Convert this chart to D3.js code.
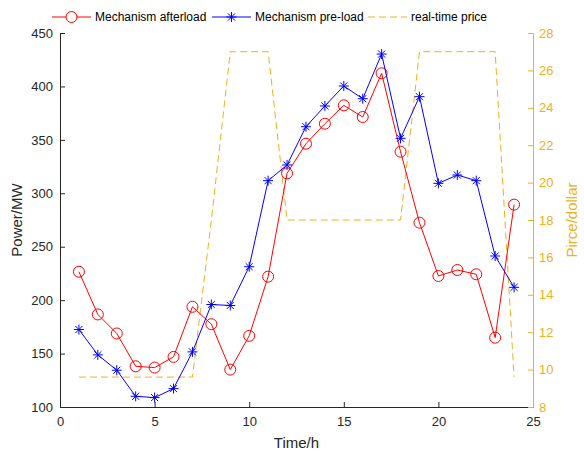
<!DOCTYPE html>
<html>
<head>
<meta charset="utf-8">
<script src="https://cdn.jsdelivr.net/npm/d3@7"></script>
<style>
  body { margin: 0; background: #fff; }
  text { font-family: Arial, "Liberation Sans", sans-serif; }
</style>
</head>
<body>
<div class="canvas"></div>
<script>
// hours of the day
const hours = [1, 2, 3, 4, 5, 6, 7, 8, 9, 10, 11, 12, 13, 14, 15, 16, 17, 18, 19, 20, 21, 22, 23, 24];

// load after the mechanism (MW)
const afterload = [226.6, 186.6, 168.8, 138.1, 136.9, 146.9, 193.8, 177.5, 135.0, 166.6, 222.0, 318.7,
  346.4, 365.1, 382.3, 371.4, 412.3, 338.9, 272.5, 222.6, 228.2, 224.2, 164.9, 289.4];

// load before the mechanism (MW)
const preload = [172.5, 148.8, 134.4, 110.0, 108.8, 117.2, 151.6, 195.9, 195.0, 231.3, 311.8, 326.5,
  362.3, 381.7, 400.4, 388.5, 430.3, 351.4, 390.4, 309.3, 317.1, 311.8, 241.3, 212.0];

// real-time price (dollar)
const price = [9.6, 9.6, 9.6, 9.6, 9.6, 9.6, 9.6, 18, 27, 27, 27, 18,
  18, 18, 18, 18, 18, 18, 27, 27, 27, 27, 27, 9.6];

const xTicks = [0, 5, 10, 15, 20, 25];
const yTicks = [100, 150, 200, 250, 300, 350, 400, 450];
const y2Ticks = [8, 10, 12, 14, 16, 18, 20, 22, 24, 26, 28];

const legendItems = ['Mechanism afterload', 'Mechanism pre-load', 'real-time price'];

const dims = { width: 584, height: 454 };
const plot = { left: 60, right: 533, top: 33, bottom: 407 };
const axisColor = '#262626';
const orange = '#EDB120';

const svg = d3.select('.canvas')
  .append('svg')
  .attr('width', dims.width)
  .attr('height', dims.height);

const x = d3.scaleLinear().domain([0, 25]).range([plot.left, plot.right]);
const y = d3.scaleLinear().domain([100, 450]).range([plot.bottom, plot.top]);
const y2 = d3.scaleLinear().domain([8, 28]).range([plot.bottom, plot.top]);

const styleAxis = (g, color) => {
  g.selectAll('path').attr('stroke', color);
  g.selectAll('line').attr('stroke', color);
  g.selectAll('text').attr('fill', color).style('font-size', '13px');
};

// axes
svg.append('g')
  .attr('transform', `translate(0, ${plot.bottom})`)
  .call(d3.axisBottom(x).tickValues(xTicks).tickSizeInner(-5).tickSizeOuter(0).tickPadding(10))
  .call(g => styleAxis(g, axisColor));

svg.append('g')
  .attr('transform', `translate(${plot.left}, 0)`)
  .call(d3.axisLeft(y).tickValues(yTicks).tickSizeInner(-5).tickSizeOuter(0).tickPadding(7))
  .call(g => styleAxis(g, axisColor));

svg.append('g')
  .attr('transform', `translate(${plot.right}, 0)`)
  .call(d3.axisRight(y2).tickValues(y2Ticks).tickSizeInner(-5).tickSizeOuter(0).tickPadding(6))
  .call(g => styleAxis(g, orange));

// axis labels
svg.append('text')
  .attr('x', (plot.left + plot.right) / 2)
  .attr('y', 448)
  .attr('text-anchor', 'middle')
  .attr('fill', axisColor)
  .style('font-size', '15px')
  .text('Time/h');

svg.append('text')
  .attr('transform', `translate(22, ${(plot.top + plot.bottom) / 2}) rotate(-90)`)
  .attr('text-anchor', 'middle')
  .attr('fill', axisColor)
  .style('font-size', '15px')
  .text('Power/MW');

svg.append('text')
  .attr('transform', `translate(577, ${(plot.top + plot.bottom) / 2}) rotate(-90)`)
  .attr('text-anchor', 'middle')
  .attr('fill', orange)
  .style('font-size', '15px')
  .text('Pirce/dollar');

// price line
svg.append('path')
  .datum(hours)
  .attr('fill', 'none')
  .attr('stroke', orange)
  .attr('stroke-width', 1)
  .attr('stroke-dasharray', '7,4')
  .attr('d', d3.line().x(d => x(d)).y((d, i) => y2(price[i])));

const asterisk = (g, r) => {
  const d = r * Math.SQRT1_2;
  g.append('path')
    .attr('d', `M${-r},0L${r},0M0,${-r}L0,${r}M${-d},${-d}L${d},${d}M${-d},${d}L${d},${-d}`);
};

// afterload
svg.append('path')
  .datum(hours)
  .attr('fill', 'none')
  .attr('stroke', '#FF0000')
  .attr('d', d3.line().x(d => x(d)).y((d, i) => y(afterload[i])));

svg.append('g').selectAll('circle')
  .data(hours)
  .enter().append('circle')
  .attr('cx', d => x(d))
  .attr('cy', (d, i) => y(afterload[i]))
  .attr('r', 5.5)
  .attr('fill', 'none')
  .attr('stroke', '#FF0000');

// preload
svg.append('path')
  .datum(hours)
  .attr('fill', 'none')
  .attr('stroke', '#0000FF')
  .attr('d', d3.line().x(d => x(d)).y((d, i) => y(preload[i])));

svg.append('g').selectAll('.star')
  .data(hours)
  .enter().append('g')
  .attr('class', 'star')
  .attr('transform', (d, i) => `translate(${x(d)}, ${y(preload[i])})`)
  .attr('stroke', '#0000FF')
  .attr('fill', 'none')
  .each(function () { asterisk(d3.select(this), 5); });

// legend
const legendX = [52, 212, 368];
const legend = svg.append('g').attr('transform', 'translate(0, 17)');
const legendColors = ['#FF0000', '#0000FF', orange];

legendItems.forEach((name, i) => {
  const item = legend.append('g').attr('transform', `translate(${legendX[i]}, 0)`);
  item.append('line')
    .attr('x1', 0).attr('x2', 39)
    .attr('stroke', legendColors[i])
    .attr('stroke-dasharray', i === 2 ? '7,4' : null);
  if (i === 0) {
    item.append('circle').attr('cx', 19.5).attr('r', 5.5)
      .attr('fill', '#fff').attr('stroke', legendColors[i]);
  }
  if (i === 1) {
    const s = item.append('g').attr('transform', 'translate(19.5, 0)')
      .attr('stroke', legendColors[i]);
    asterisk(s, 5);
  }
  item.append('text')
    .attr('x', 43)
    .attr('dy', '0.35em')
    .attr('fill', '#000')
    .style('font-size', '12px')
    .text(name);
});
</script>
</body>
</html>
